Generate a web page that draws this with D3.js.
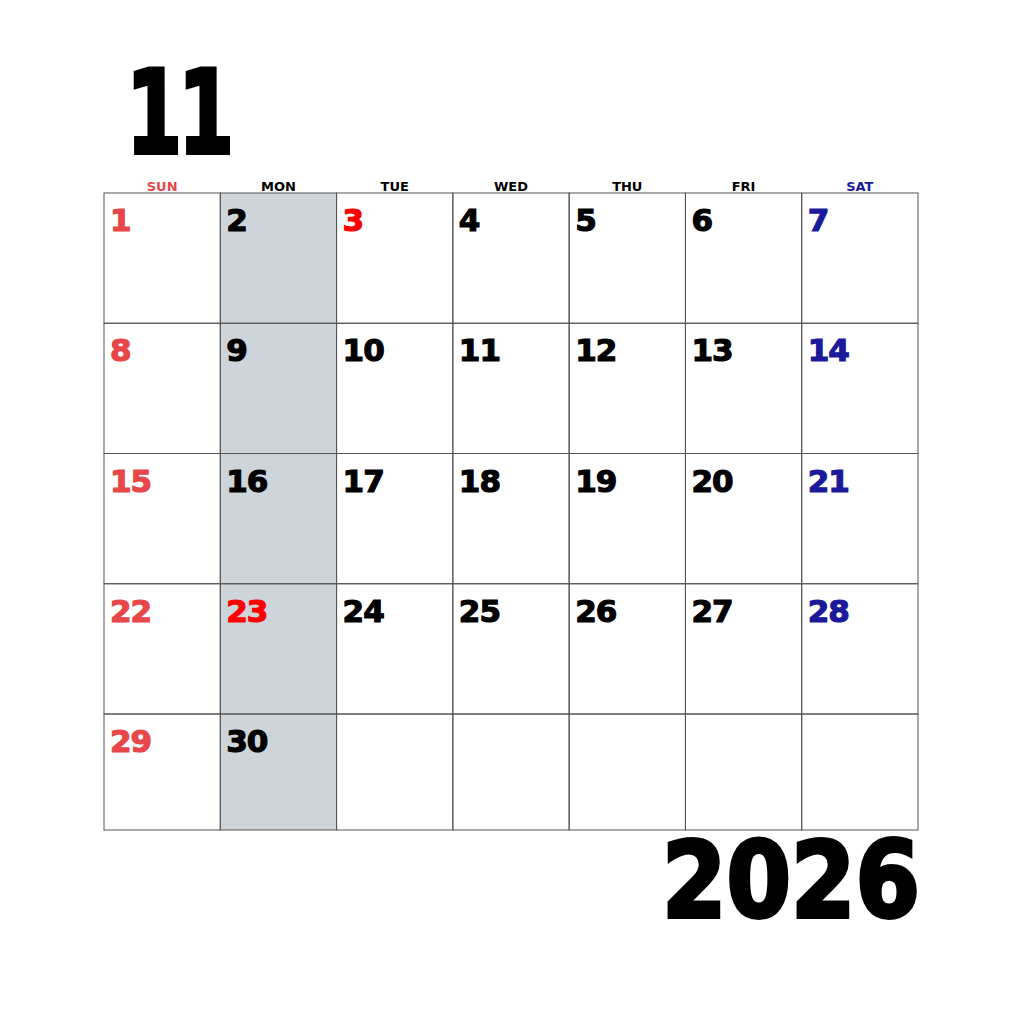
<!DOCTYPE html><html><head><meta charset="utf-8"><script src="https://cdn.jsdelivr.net/npm/d3@7"></script>
<style>body{margin:0;background:#fff}</style></head><body><script>
const monthLabel="11", yearLabel="2026";
const weekdays=["SUN","MON","TUE","WED","THU","FRI","SAT"];
const days=d3.range(1,31);
const startDow=0;
const holidays=[3,23];
const W=1024,H=1024;
const svg=d3.select("body").append("svg").attr("width",W).attr("height",H);
const x=d3.scaleBand().domain(d3.range(7)).range([104,918]);
const rowsY=d3.scaleLinear().domain([0,4]).range([193,714]);
const rowBottom=r=>r<4?rowsY(r+1):830;
// monday shade
svg.append("rect").attr("x",x(1)).attr("y",rowsY(0)).attr("width",x.bandwidth()).attr("height",830-rowsY(0)).attr("fill","#cdd5da");
// grid
const g=svg.append("g").attr("stroke","#555").attr("stroke-width",1).attr("fill","none");
for(let r=0;r<5;r++)for(let c=0;c<7;c++)
 g.append("rect").attr("x",x(c)).attr("y",rowsY(r)).attr("width",x.bandwidth()).attr("height",rowBottom(r)-rowsY(r));
const hdrCol=["#e8474a","#000","#000","#000","#000","#000","#1a1a9a"];
svg.selectAll(".wd").data(weekdays).join("text").attr("x",(d,i)=>x(i)+x.bandwidth()/2).attr("y",191)
 .attr("text-anchor","middle").attr("font-family","DejaVu Sans").attr("font-weight","bold").attr("font-size",13)
 .attr("transform-origin","center").attr("fill",(d,i)=>hdrCol[i]).text(d=>d);
svg.selectAll(".day").data(days).join("text").attr("x",d=>x((d-1+startDow)%7)+6)
 .attr("y",d=>rowsY(Math.floor((d-1+startDow)/7))+38)
 .attr("font-family","DejaVu Sans").attr("font-weight","bold").attr("font-size",31)
 .attr("stroke-width",1.2)
 .attr("fill",d=>{const c=(d-1+startDow)%7;if(holidays.includes(d))return"#ff0000";if(c==0)return"#e8474a";if(c==6)return"#1a1a9a";return"#000"})
 .attr("stroke",function(){return d3.select(this).attr("fill")})
 .attr("letter-spacing",-1).text(d=>d);
svg.append("text").attr("x",126).attr("y",153).attr("font-family","DejaVu Sans").attr("font-weight","bold")
 .attr("font-size",115).attr("stroke","#000").attr("stroke-width",4).attr("letter-spacing",-6)
 .attr("textLength",104).attr("lengthAdjust","spacingAndGlyphs").text(monthLabel);
svg.append("text").attr("x",662).attr("y",917).attr("font-family","DejaVu Sans").attr("font-weight","bold")
 .attr("font-size",105).attr("stroke","#000").attr("stroke-width",4)
 .attr("textLength",258).attr("lengthAdjust","spacingAndGlyphs").text(yearLabel);
</script></body></html>
